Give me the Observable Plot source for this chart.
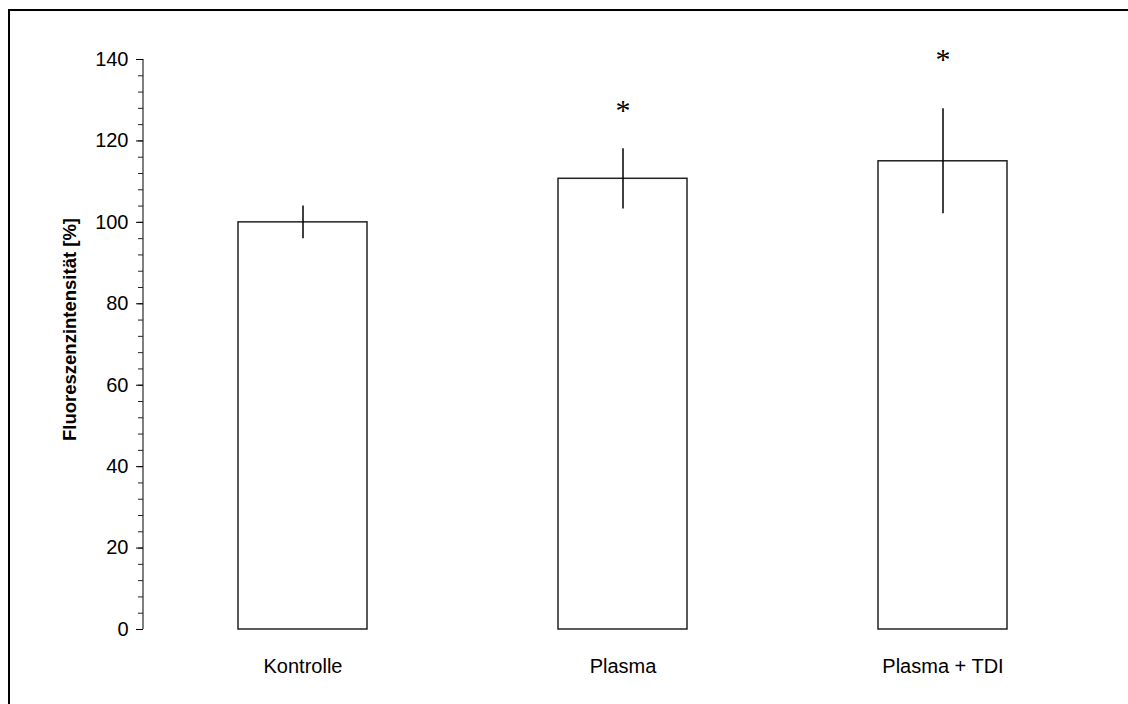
<!DOCTYPE html>
<html>
<head>
<meta charset="utf-8">
<script src="https://cdn.jsdelivr.net/npm/d3@7"></script>
<script src="https://cdn.jsdelivr.net/npm/@observablehq/plot@0.6"></script>
<style>
  html, body { margin: 0; padding: 0; background: #fff; overflow: hidden; width: 1128px; height: 704px; }
  #wrap { position: relative; width: 1128px; height: 704px; overflow: hidden; }
  #hline { position: absolute; left: 8px; top: 9px; width: 1300px; height: 2px; background: #000; }
  #vline { position: absolute; left: 8px; top: 9px; width: 2px; height: 900px; background: #000; }
  #chart { position: absolute; left: 0; top: 0; }
</style>
</head>
<body>
<div id="wrap">
  <div id="hline"></div>
  <div id="vline"></div>
  <div id="chart"></div>
</div>
<script>
const categories = ["Kontrolle", "Plasma", "Plasma + TDI"];
const means = [100, 110.7, 115.0];
const errors = [4.0, 7.4, 12.9];
const significance = ["", "*", "*"];
const starY = [null, 127.5, 140];
const yDomain = [0, 140];
const yMajorTicks = [0, 20, 40, 60, 80, 100, 120, 140];
const yMinorTicks = d3.range(0, 141, 4);
const yLabel = "Fluoreszenzintensität [%]";

const data = categories.map((c, i) => ({
  cat: c, mean: means[i], lo: means[i] - errors[i], hi: means[i] + errors[i],
  sig: significance[i], starY: starY[i]
}));

// y-axis line drawn through the y scale
function axisLine(index, scales, values, dims) {
  const g = d3.create("svg:line")
    .attr("x1", dims.marginLeft).attr("x2", dims.marginLeft)
    .attr("y1", scales.y(yDomain[0])).attr("y2", scales.y(yDomain[1]))
    .attr("stroke", "#555").attr("stroke-width", 1.5);
  return g.node();
}

const chart = Plot.plot({
  width: 1128,
  height: 704,
  marginTop: 59,
  marginBottom: 75,
  marginLeft: 143,
  marginRight: 26,
  style: { fontFamily: "'Liberation Sans', Arial, sans-serif", background: "transparent", overflow: "visible" },
  x: { domain: categories, paddingInner: 0.598, paddingOuter: 0.293 },
  y: { domain: yDomain },
  marks: [
    Plot.barY(data, { x: "cat", y: "mean", fill: "white", stroke: "#222", strokeWidth: 1.5 }),
    Plot.ruleX(data, { x: "cat", y1: "lo", y2: "hi", stroke: "#000", strokeWidth: 1.5 }),
    Plot.text(data.filter(d => d.sig), { x: "cat", y: "starY", text: "sig", fontFamily: "'Liberation Serif', 'Times New Roman', serif", fontSize: 30, fill: "#000" }),
    axisLine,
    Plot.axisY({ ticks: yMinorTicks, tickSize: 5, text: null, label: null, stroke: "#222" }),
    Plot.axisY({ ticks: yMajorTicks, tickSize: 7, tickPadding: 8, fontSize: 20, label: null, stroke: "#000", fill: "#000" }),
    Plot.axisX({ tickSize: 0, tickPadding: 29, fontSize: 20, label: null, fill: "#000" }),
    Plot.text([yLabel], { frameAnchor: "left", textAnchor: "middle", dx: -73, dy: -15, rotate: -90, fontWeight: "bold", fontSize: 18.5, fill: "#000" })
  ]
});
document.getElementById("chart").appendChild(chart);
</script>
</body>
</html>
